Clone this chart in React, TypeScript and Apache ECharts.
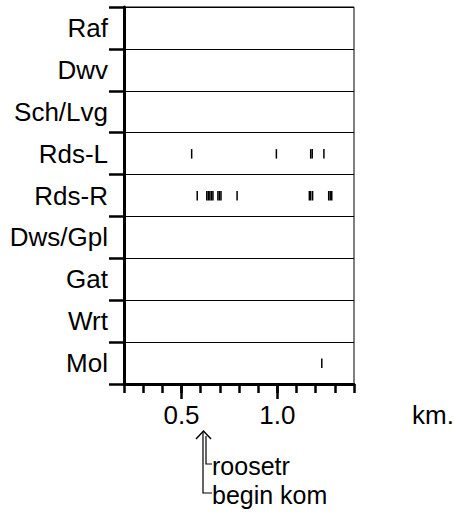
import React, { useEffect, useRef } from "react";
import * as echarts from "echarts";

const categories = ["Raf", "Dwv", "Sch/Lvg", "Rds-L", "Rds-R", "Dws/Gpl", "Gat", "Wrt", "Mol"];
const rdsL = [0.553, 0.995, 1.174, 1.182, 1.243];
const rdsR = [0.582, 0.632, 0.64, 0.648, 0.656, 0.664, 0.69, 0.698, 0.706, 0.79, 1.167, 1.174, 1.184, 1.268, 1.276, 1.284];
const mol = [1.232];
const majorTicks = [0.5, 1.0];
const xMin = 0.2;
const xMax = 1.4;
const unitLabel = "km.";
const noteLines = ["roosetr", "begin kom"];

const FONT = "'Liberation Sans', Arial, sans-serif";

export default function App() {
  const ref = useRef<HTMLDivElement>(null);
  useEffect(() => {
    if (!ref.current) return;
    const chart = echarts.init(ref.current, undefined, { renderer: "svg" });
    const rows: Record<string, number[]> = { "Rds-L": rdsL, "Rds-R": rdsR, Mol: mol };
    const data: number[][] = [];
    Object.keys(rows).forEach((k) => {
      const idx = categories.indexOf(k);
      rows[k].forEach((v) => data.push([v, idx]));
    });
    chart.setOption({
      animation: false,
      textStyle: { fontFamily: FONT },
      grid: { left: 124, right: 100, top: 7, bottom: 134, show: true, borderColor: "#000", borderWidth: 1, backgroundColor: "transparent" },
      xAxis: [
        {
          type: "value", min: xMin, max: xMax, interval: 0.1, position: "bottom",
          axisLine: { show: true, onZero: false, lineStyle: { color: "#000", width: 3 } },
          axisTick: { show: true, length: 9, lineStyle: { color: "#000", width: 2.5 } },
          axisLabel: { show: false },
          splitLine: { show: false },
        },
        {
          type: "value", min: xMin, max: xMax, position: "bottom", offset: 0,
          axisLine: { show: false, onZero: false },
          axisTick: { show: true, customValues: majorTicks, length: 15, lineStyle: { color: "#000", width: 2.5 } },
          axisLabel: {
            show: true, customValues: majorTicks, fontSize: 26, color: "#000", margin: 18, fontFamily: FONT,
            formatter: (v: number) => v.toFixed(1),
          },
          splitLine: { show: false },
        },
      ],
      yAxis: {
        type: "category", data: categories, inverse: true, boundaryGap: true,
        axisLine: { show: true, lineStyle: { color: "#000", width: 3 } },
        axisTick: { show: true, length: 15, lineStyle: { color: "#000", width: 2.5 } },
        axisLabel: { fontSize: 26, color: "#000", margin: 16, fontFamily: FONT },
        splitLine: { show: true, lineStyle: { color: "#000", width: 1 } },
      },
      series: [
        {
          type: "custom", xAxisIndex: 0, yAxisIndex: 0, data,
          renderItem: (params: any, api: any) => {
            const p = api.coord([api.value(0), api.value(1)]);
            return { type: "rect", shape: { x: p[0] - 0.75, y: p[1] - 4.5, width: 1.5, height: 9.5 }, style: { fill: "#000" } };
          },
        },
      ],
      graphic: [
        { type: "text", left: 412, top: 402, style: { text: unitLabel, fontSize: 26, fill: "#000", fontFamily: FONT } },
        { type: "polyline", shape: { points: [[196, 439], [203.5, 431], [211, 439]] }, style: { stroke: "#000", lineWidth: 1.5, fill: null } },
        { type: "polyline", shape: { points: [[203, 432], [203, 493], [212, 493]] }, style: { stroke: "#000", lineWidth: 1.2, fill: null } },
        { type: "polyline", shape: { points: [[206, 436], [206, 464], [212, 464]] }, style: { stroke: "#000", lineWidth: 1.2, fill: null } },
        { type: "text", x: 212, y: 466, style: { text: noteLines[0], fontSize: 25, fill: "#000", fontFamily: FONT, verticalAlign: "middle" } },
        { type: "text", x: 212, y: 495, style: { text: noteLines[1], fontSize: 25, fill: "#000", fontFamily: FONT, verticalAlign: "middle" } },
      ],
    });
    return () => chart.dispose();
  }, []);
  return <div ref={ref} style={{ position: "fixed", left: 0, top: 0, width: 454, height: 518, background: "#fff" }} />;
}
